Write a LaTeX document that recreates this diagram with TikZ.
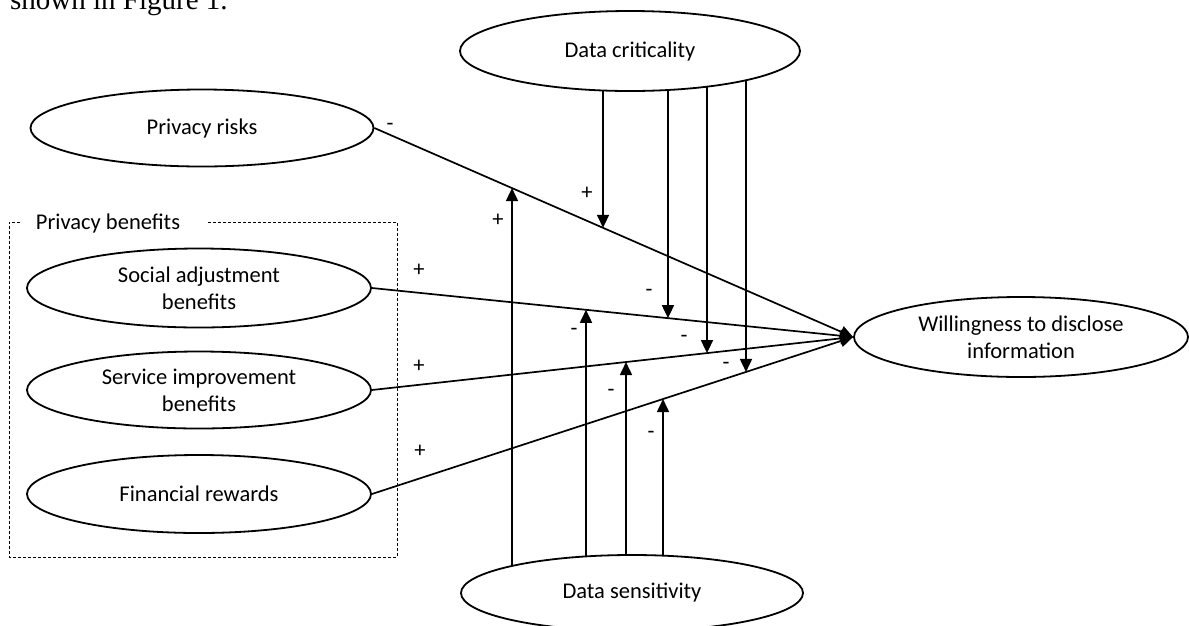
\documentclass[tikz,border=0pt]{standalone}
\usepackage{fontspec}
\setmainfont{Carlito}
\newfontfamily\serifo{Liberation Serif}
\usetikzlibrary{shapes.geometric,arrows.meta,backgrounds}
\begin{document}
\begin{tikzpicture}[x=1pt,y=-1pt,
  ell/.style={ellipse, draw, line width=1.8pt, fill=white, inner sep=0pt, align=center,
    font=\fontsize{22.5}{27}\selectfont},
  conn/.style={line width=1.7pt, -{Triangle[length=13pt,width=12pt]}},
  sign/.style={font=\fontsize{22.5}{27}\selectfont, inner sep=0pt},
  grp/.style={line width=0.8pt, dash pattern=on 3pt off 2pt}]
\clip (0,0) rectangle (1189,625);
\useasboundingbox (0,0) rectangle (1189,625);

\node[anchor=base west, inner sep=0pt, font=\serifo\fontsize{29}{34}\selectfont] (fig) at (10,9.5) {shown in Figure 1.};

% group box
\draw[grp] (20,222) -- (9,222) -- (9,557) -- (397,557) -- (397,222) -- (207,222);
\node[sign] (pb) at (108,223) {Privacy benefits};

% ellipses
\node[ell, minimum width=340pt, minimum height=80pt] (DC) at (630,51) {Data criticality};
\node[ell, minimum width=343pt, minimum height=77pt] (PR) at (202,128) {Privacy risks};
\node[ell, minimum width=344pt, minimum height=79pt] (SA) at (199,288) {Social adjustment\\benefits};
\node[ell, minimum width=344pt, minimum height=77pt] (SI) at (199,390) {Service improvement\\benefits};
\node[ell, minimum width=344pt, minimum height=78pt] (FR) at (199,494) {Financial rewards};
\node[ell, minimum width=334pt, minimum height=80pt] (W) at (1021,337) {Willingness to disclose\\information};
\node[ell, minimum width=342pt, minimum height=76pt] (DS) at (632,593) {Data sensitivity};

% main paths
\draw[conn] (PR.east) -- (W.west);
\draw[conn] (SA.east) -- (W.west);
\draw[conn] (SI.east) -- (W.west);
\draw[conn] (FR.east) -- (W.west);

% moderator end points
\coordinate (d1) at (intersection of PR.east--W.west and 603,0--603,600);
\coordinate (d2) at (intersection of SA.east--W.west and 668,0--668,600);
\coordinate (d3) at (intersection of SI.east--W.west and 707,0--707,600);
\coordinate (d4) at (intersection of FR.east--W.west and 746,0--746,600);
\coordinate (u1) at (intersection of PR.east--W.west and 512,0--512,600);
\coordinate (u2) at (intersection of SA.east--W.west and 586,0--586,600);
\coordinate (u3) at (intersection of SI.east--W.west and 626,0--626,600);
\coordinate (u4) at (intersection of FR.east--W.west and 663,0--663,600);

\begin{pgfonlayer}{background}
\draw[conn] (DC.center -| d1) -- (d1);
\draw[conn] (DC.center -| d2) -- (d2);
\draw[conn] (DC.center -| d3) -- (d3);
\draw[conn] (DC.center -| d4) -- (d4);
\draw[conn] (DS.center -| u1) -- (u1);
\draw[conn] (DS.center -| u2) -- (u2);
\draw[conn] (DS.center -| u3) -- (u3);
\draw[conn] (DS.center -| u4) -- (u4);
\end{pgfonlayer}

% signs
\node[sign] (m0) at (390,127) {-};
\node[sign] (p1) at (419,270) {+};
\node[sign] (p2) at (419,366) {+};
\node[sign] (p3) at (420,451) {+};
\node[sign] (p4) at (498,220) {+};
\node[sign] (p5) at (587,193) {+};
\node[sign] (m1) at (649,293) {-};
\node[sign] (m2) at (574,332) {-};
\node[sign] (m3) at (684,339) {-};
\node[sign] (m4) at (726,366) {-};
\node[sign] (m5) at (611,393) {-};
\node[sign] (m6) at (651,435) {-};
\end{tikzpicture}
\end{document}
